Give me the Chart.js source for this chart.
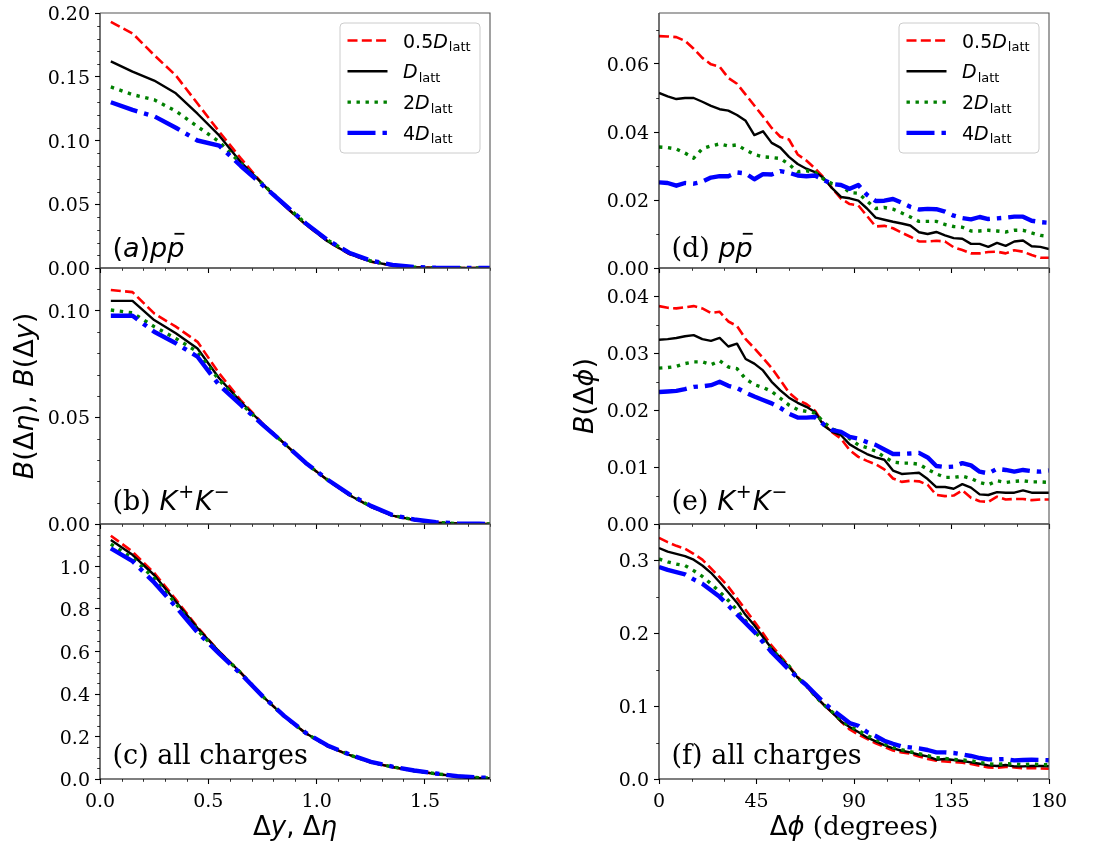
<!DOCTYPE html>
<html>
<head>
<meta charset="utf-8">
<script src="https://cdn.jsdelivr.net/npm/chart.js@4.4.1/dist/chart.umd.min.js"></script>
<style>
  html, body { margin: 0; padding: 0; background: #ffffff; }
  #fig { position: relative; width: 1100px; height: 843px; overflow: hidden; background: #ffffff; }
  #fig canvas { position: absolute; }
</style>
</head>
<body>
<div id="fig"></div>
<script>
// ---- bin centres ----
const rapidityBins = [0.05, 0.15, 0.25, 0.35, 0.45, 0.55, 0.65, 0.75, 0.85, 0.95, 1.05, 1.15, 1.25, 1.35, 1.45, 1.55, 1.65, 1.75, 1.85];
const angleBins = [0, 4, 8, 12, 16, 20, 24, 28, 32, 36, 40, 44, 48, 52, 56, 60, 64, 68, 72, 76, 80, 84, 88,
                   92, 96, 100, 104, 108, 112, 116, 120, 124, 128, 132, 136, 140, 144, 148, 152, 156, 160, 164, 168, 172, 176, 180];

// legend prefixes for the four diffusion constants
const lattPrefixes = ['0.5', '', '2', '4'];

// ---- (a) p pbar, balance function vs rapidity ----
const ppDy05 = [0.193, 0.184, 0.167, 0.151, 0.129, 0.107, 0.086, 0.066, 0.049, 0.034, 0.021, 0.011, 0.005, 0.002, 0.0006, 0.0001, 0, 0, 0];
const ppDy1  = [0.162, 0.154, 0.147, 0.137, 0.121, 0.104, 0.083, 0.066, 0.049, 0.034, 0.021, 0.011, 0.005, 0.002, 0.0006, 0.0001, 0, 0, 0];
const ppDy2  = [0.142, 0.136, 0.132, 0.123, 0.111, 0.099, 0.082, 0.066, 0.050, 0.035, 0.022, 0.012, 0.0055, 0.0022, 0.0007, 0.0002, 0, 0, 0];
const ppDy4  = [0.130, 0.124, 0.119, 0.110, 0.100, 0.096, 0.080, 0.065, 0.050, 0.035, 0.022, 0.012, 0.0058, 0.0024, 0.0008, 0.0002, 0, 0, 0];

// ---- (b) K+K-, vs rapidity ----
const kkDy05 = [0.1097, 0.1087, 0.0987, 0.0925, 0.0854, 0.0706, 0.0580, 0.0472, 0.0378, 0.0284, 0.0206, 0.0136, 0.0081, 0.0039, 0.0019, 0.0006, 0.0002, 0, 0];
const kkDy1  = [0.1046, 0.1046, 0.0956, 0.0894, 0.0823, 0.0683, 0.0573, 0.0470, 0.0378, 0.0284, 0.0206, 0.0136, 0.0081, 0.0039, 0.0019, 0.0006, 0.0002, 0, 0];
const kkDy2  = [0.1003, 0.0990, 0.0925, 0.0870, 0.0807, 0.0675, 0.0566, 0.0468, 0.0378, 0.0285, 0.0207, 0.0138, 0.0083, 0.0040, 0.0020, 0.0007, 0.0002, 0.0001, 0];
const kkDy4  = [0.0976, 0.0976, 0.0901, 0.0847, 0.0784, 0.0651, 0.0558, 0.0466, 0.0378, 0.0286, 0.0208, 0.0140, 0.0085, 0.0042, 0.0021, 0.0008, 0.0003, 0.0001, 0];

// ---- (c) all charges, vs pseudorapidity ----
const allDy05 = [1.145, 1.070, 0.970, 0.845, 0.715, 0.600, 0.500, 0.390, 0.295, 0.215, 0.155, 0.113, 0.078, 0.056, 0.038, 0.024, 0.012, 0.005, 0.002];
const allDy1  = [1.125, 1.055, 0.960, 0.835, 0.710, 0.600, 0.500, 0.390, 0.295, 0.215, 0.155, 0.113, 0.078, 0.056, 0.038, 0.024, 0.012, 0.005, 0.002];
const allDy2  = [1.105, 1.040, 0.945, 0.825, 0.700, 0.595, 0.500, 0.390, 0.295, 0.215, 0.156, 0.114, 0.079, 0.057, 0.039, 0.025, 0.013, 0.006, 0.002];
const allDy4  = [1.085, 1.025, 0.925, 0.810, 0.690, 0.590, 0.495, 0.390, 0.297, 0.217, 0.158, 0.116, 0.081, 0.058, 0.040, 0.026, 0.013, 0.007, 0.003];

// ---- (d) p pbar, vs azimuth ----
const ppPhi05 = [0.0682, 0.0681, 0.0679, 0.0668, 0.0645, 0.0618, 0.0599, 0.0592, 0.0559, 0.0542, 0.0510, 0.0478, 0.0446, 0.0412, 0.0386, 0.0378, 0.0334, 0.0316, 0.0293, 0.0266, 0.0234, 0.0204, 0.0188,
                 0.0184, 0.0153, 0.0122, 0.0124, 0.0117, 0.0104, 0.0092, 0.0078, 0.0078, 0.0080, 0.0078, 0.0061, 0.0053, 0.0043, 0.0043, 0.0047, 0.0048, 0.0043, 0.0052, 0.0048, 0.0038, 0.0030, 0.0030];
const ppPhi1  = [0.0515, 0.0505, 0.0497, 0.0500, 0.0500, 0.0489, 0.0477, 0.0467, 0.0463, 0.0450, 0.0433, 0.0391, 0.0402, 0.0368, 0.0354, 0.0327, 0.0306, 0.0292, 0.0282, 0.0265, 0.0234, 0.0209, 0.0205,
                 0.0198, 0.0175, 0.0148, 0.0142, 0.0136, 0.0131, 0.0125, 0.0105, 0.0100, 0.0106, 0.0096, 0.0088, 0.0086, 0.0071, 0.0071, 0.0062, 0.0074, 0.0065, 0.0078, 0.0081, 0.0064, 0.0062, 0.0056];
const ppPhi2  = [0.0356, 0.0354, 0.0350, 0.0338, 0.0323, 0.0351, 0.0359, 0.0365, 0.0359, 0.0362, 0.0347, 0.0334, 0.0327, 0.0325, 0.0322, 0.0305, 0.0283, 0.0286, 0.0282, 0.0261, 0.0248, 0.0243, 0.0222,
                 0.0220, 0.0197, 0.0175, 0.0178, 0.0173, 0.0162, 0.0150, 0.0137, 0.0137, 0.0137, 0.0128, 0.0122, 0.0120, 0.0109, 0.0109, 0.0111, 0.0109, 0.0106, 0.0111, 0.0111, 0.0103, 0.0096, 0.0093];
const ppPhi4  = [0.0252, 0.0250, 0.0242, 0.0250, 0.0248, 0.0254, 0.0266, 0.0270, 0.0270, 0.0281, 0.0278, 0.0261, 0.0276, 0.0275, 0.0285, 0.0280, 0.0272, 0.0270, 0.0272, 0.0259, 0.0247, 0.0244, 0.0233,
                 0.0244, 0.0215, 0.0197, 0.0198, 0.0203, 0.0192, 0.0180, 0.0172, 0.0174, 0.0173, 0.0166, 0.0154, 0.0147, 0.0143, 0.0150, 0.0144, 0.0146, 0.0148, 0.0151, 0.0151, 0.0139, 0.0135, 0.0133];

// ---- (e) K+K-, vs azimuth ----
const kkPhi05 = [0.0383, 0.0380, 0.0379, 0.0381, 0.0383, 0.0379, 0.0371, 0.0373, 0.0356, 0.0348, 0.0325, 0.0309, 0.0292, 0.0274, 0.0253, 0.0231, 0.0218, 0.0211, 0.0199, 0.0175, 0.0161, 0.0150, 0.0130,
                 0.0118, 0.0111, 0.0105, 0.0096, 0.0080, 0.0074, 0.0076, 0.0075, 0.0069, 0.0051, 0.0049, 0.0050, 0.0059, 0.0046, 0.0040, 0.0039, 0.0048, 0.0043, 0.0044, 0.0044, 0.0042, 0.0043, 0.0043];
const kkPhi1  = [0.0324, 0.0325, 0.0327, 0.0330, 0.0332, 0.0325, 0.0322, 0.0327, 0.0312, 0.0317, 0.0290, 0.0282, 0.0270, 0.0250, 0.0235, 0.0222, 0.0213, 0.0206, 0.0197, 0.0173, 0.0162, 0.0156, 0.0140,
                 0.0131, 0.0123, 0.0117, 0.0113, 0.0094, 0.0088, 0.0089, 0.0090, 0.0079, 0.0065, 0.0065, 0.0062, 0.0070, 0.0064, 0.0052, 0.0051, 0.0056, 0.0055, 0.0055, 0.0059, 0.0055, 0.0055, 0.0055];
const kkPhi2  = [0.0274, 0.0275, 0.0277, 0.0282, 0.0285, 0.0285, 0.0280, 0.0287, 0.0276, 0.0273, 0.0255, 0.0245, 0.0240, 0.0233, 0.0221, 0.0209, 0.0201, 0.0198, 0.0195, 0.0179, 0.0167, 0.0161, 0.0150,
                 0.0139, 0.0134, 0.0128, 0.0118, 0.0109, 0.0107, 0.0107, 0.0105, 0.0096, 0.0088, 0.0082, 0.0082, 0.0084, 0.0080, 0.0073, 0.0069, 0.0076, 0.0073, 0.0075, 0.0076, 0.0074, 0.0074, 0.0073];
const kkPhi4  = [0.0232, 0.0233, 0.0234, 0.0237, 0.0241, 0.0242, 0.0244, 0.0250, 0.0243, 0.0239, 0.0231, 0.0224, 0.0218, 0.0212, 0.0204, 0.0194, 0.0187, 0.0187, 0.0188, 0.0175, 0.0165, 0.0162, 0.0153,
                 0.0150, 0.0144, 0.0139, 0.0131, 0.0123, 0.0123, 0.0124, 0.0125, 0.0117, 0.0102, 0.0100, 0.0101, 0.0107, 0.0103, 0.0092, 0.0089, 0.0097, 0.0095, 0.0092, 0.0095, 0.0093, 0.0092, 0.0094];

// ---- (f) all charges, vs azimuth ----
const allPhi05 = [0.331, 0.325, 0.320, 0.316, 0.309, 0.301, 0.289, 0.277, 0.264, 0.248, 0.232, 0.216, 0.200, 0.183, 0.169, 0.155, 0.140, 0.128, 0.114, 0.102, 0.091, 0.079,
                  0.068, 0.061, 0.055, 0.049, 0.044, 0.039, 0.0365, 0.0347, 0.031, 0.0274, 0.0251, 0.0241, 0.0233, 0.0224, 0.0206, 0.0183, 0.0159, 0.0155, 0.0165, 0.016, 0.0146, 0.0151, 0.0145, 0.014];
const allPhi1  = [0.317, 0.312, 0.309, 0.306, 0.301, 0.293, 0.283, 0.270, 0.256, 0.242, 0.225, 0.211, 0.195, 0.179, 0.166, 0.154, 0.139, 0.128, 0.114, 0.102, 0.091, 0.079,
                  0.0713, 0.0645, 0.0571, 0.0516, 0.0466, 0.042, 0.0388, 0.0365, 0.0333, 0.031, 0.0265, 0.0274, 0.0261, 0.0247, 0.0228, 0.021, 0.0187, 0.0178, 0.0192, 0.0173, 0.0173, 0.0178, 0.0178, 0.0175];
const allPhi2  = [0.302, 0.298, 0.295, 0.293, 0.286, 0.278, 0.268, 0.257, 0.245, 0.232, 0.217, 0.203, 0.190, 0.178, 0.166, 0.155, 0.139, 0.128, 0.114, 0.102, 0.092, 0.081,
                  0.0722, 0.0667, 0.0598, 0.0543, 0.0484, 0.0434, 0.0402, 0.0375, 0.0347, 0.032, 0.0292, 0.0283, 0.0269, 0.0261, 0.0251, 0.0228, 0.021, 0.020, 0.021, 0.0206, 0.0196, 0.0206, 0.020, 0.0195];
const allPhi4  = [0.291, 0.287, 0.284, 0.281, 0.274, 0.268, 0.259, 0.250, 0.238, 0.226, 0.214, 0.202, 0.188, 0.174, 0.162, 0.150, 0.139, 0.129, 0.117, 0.105, 0.095, 0.086,
                  0.0768, 0.0731, 0.0645, 0.059, 0.0525, 0.0484, 0.0447, 0.0434, 0.042, 0.0398, 0.0365, 0.0365, 0.0357, 0.0338, 0.0316, 0.0288, 0.0269, 0.0269, 0.0274, 0.0255, 0.0261, 0.0265, 0.0262, 0.0258];

// ---- tick values ----
const xTicksRap = [0, 0.5, 1.0, 1.5];
const xTicksPhi = [0, 45, 90, 135, 180];
const yTicksA = [0, 0.05, 0.10, 0.15, 0.20];
const yTicksB = [0, 0.05, 0.10];
const yTicksC = [0, 0.2, 0.4, 0.6, 0.8, 1.0];
const yTicksD = [0, 0.02, 0.04, 0.06];
const yTicksE = [0, 0.01, 0.02, 0.03, 0.04];
const yTicksF = [0, 0.1, 0.2, 0.3];

// ---- styling ----
const SANS = '"DejaVu Sans", sans-serif';
const SERIF = '"DejaVu Serif", serif';
const f = (size, fam, italic) => (italic ? 'italic ' : '') + size + 'px ' + fam;
const TICK_FONT = f(19, SERIF);

const seriesStyles = [
  { color: '#ff0000', width: 2.6, dash: [10, 4.3] },
  { color: '#000000', width: 2.4, dash: [] },
  { color: '#008000', width: 3.4, dash: [3.4, 5.6] },
  { color: '#0000ff', width: 4.4, dash: [28, 7, 4.4, 7] }
];

const rows = [ { top: 13, bottom: 268 }, { top: 268, bottom: 524 }, { top: 524, bottom: 779 } ];
const cols = [ { left: 0, width: 530, axisW: 100, padR: 40 }, { left: 560, width: 540, axisW: 99, padR: 51 } ];

// draws a sequence of differently styled text pieces, returns end x
function drawRuns(ctx, x, y, runs) {
  let cx = x;
  for (const r of runs) {
    ctx.font = r.font;
    ctx.fillText(r.t, cx, y + (r.dy || 0));
    const w = ctx.measureText(r.t).width;
    if (r.bar) {
      ctx.save();
      ctx.lineWidth = 1.8;
      ctx.strokeStyle = '#000';
      ctx.setLineDash([]);
      const by = y - r.size * 0.86;
      ctx.beginPath();
      ctx.moveTo(cx + w * 0.42, by);
      ctx.lineTo(cx + w * 1.0, by);
      ctx.stroke();
      ctx.restore();
    }
    cx += w + (r.gap || 0);
  }
  return cx;
}
function runsWidth(ctx, runs) {
  let w = 0;
  for (const r of runs) { ctx.font = r.font; w += ctx.measureText(r.t).width + (r.gap || 0); }
  return w;
}

const PL = 27; // panel label size
const ppbarRuns = (prefixRuns) => prefixRuns.concat([
  { t: 'p', font: f(PL, SANS, true) },
  { t: 'p', font: f(PL, SANS, true), bar: true, size: PL }
]);
const kkRuns = [
  { t: '(b) ', font: f(PL, SERIF) },
  { t: 'K', font: f(PL, SANS, true), gap: 1 },
  { t: '+', font: f(19, SANS), dy: -12, gap: 1 },
  { t: 'K', font: f(PL, SANS, true), gap: 1 },
  { t: '\u2212', font: f(19, SANS), dy: -12 }
];

const panels = [
  { col: 0, row: 0, xs: rapidityBins, series: [ppDy05, ppDy1, ppDy2, ppDy4], xmax: 1.8, xTicks: xTicksRap, xMinor: 0.1, xDec: 1,
    ymax: 0.20, yTicks: yTicksA, yMinor: 0.01, yDec: 2, legend: true,
    label: ppbarRuns([{ t: '(', font: f(PL, SANS) }, { t: 'a', font: f(PL, SANS, true) }, { t: ')', font: f(PL, SANS) }]) },
  { col: 0, row: 1, xs: rapidityBins, series: [kkDy05, kkDy1, kkDy2, kkDy4], xmax: 1.8, xTicks: xTicksRap, xMinor: 0.1, xDec: 1,
    ymax: 0.12, yTicks: yTicksB, yMinor: 0.01, yDec: 2, label: kkRuns,
    ylabel: [
      { t: 'B', font: f(27, SANS, true) }, { t: '(\u0394', font: f(27, SANS) }, { t: '\u03b7', font: f(27, SANS, true) },
      { t: '), ', font: f(27, SANS) }, { t: 'B', font: f(27, SANS, true) }, { t: '(\u0394', font: f(27, SANS) },
      { t: 'y', font: f(27, SANS, true) }, { t: ')', font: f(27, SANS) }
    ] },
  { col: 0, row: 2, xs: rapidityBins, series: [allDy05, allDy1, allDy2, allDy4], xmax: 1.8, xTicks: xTicksRap, xMinor: 0.1, xDec: 1,
    ymax: 1.2, yTicks: yTicksC, yMinor: 0.05, yDec: 1, showX: true,
    label: [{ t: '(c) all charges', font: f(PL, SERIF) }],
    xlabel: [
      { t: '\u0394', font: f(26, SANS) }, { t: 'y', font: f(26, SANS, true) }, { t: ', \u0394', font: f(26, SANS) },
      { t: '\u03b7', font: f(26, SANS, true) }
    ] },
  { col: 1, row: 0, xs: angleBins, series: [ppPhi05, ppPhi1, ppPhi2, ppPhi4], xmax: 180, xTicks: xTicksPhi, xMinor: 15, xDec: 0,
    ymax: 0.075, yTicks: yTicksD, yMinor: 0.01, yDec: 2, legend: true,
    label: ppbarRuns([{ t: '(d) ', font: f(PL, SERIF) }]) },
  { col: 1, row: 1, xs: angleBins, series: [kkPhi05, kkPhi1, kkPhi2, kkPhi4], xmax: 180, xTicks: xTicksPhi, xMinor: 15, xDec: 0,
    ymax: 0.045, yTicks: yTicksE, yMinor: 0.005, yDec: 2,
    label: [{ t: '(e) ', font: f(PL, SERIF) }].concat(kkRuns.slice(1)),
    ylabel: [
      { t: 'B', font: f(27, SANS, true) }, { t: '(\u0394', font: f(27, SANS) }, { t: '\u03d5', font: f(27, SANS, true) },
      { t: ')', font: f(27, SANS) }
    ] },
  { col: 1, row: 2, xs: angleBins, series: [allPhi05, allPhi1, allPhi2, allPhi4], xmax: 180, xTicks: xTicksPhi, xMinor: 15, xDec: 0,
    ymax: 0.35, yTicks: yTicksF, yMinor: 0.05, yDec: 1, showX: true,
    label: [{ t: '(f) all charges', font: f(PL, SERIF) }],
    xlabel: [
      { t: '\u0394', font: f(26, SANS) }, { t: '\u03d5', font: f(26, SANS, true) }, { t: ' (degrees)', font: f(26, SERIF) }
    ] }
];

// minor ticks, frame, tick labels, legend and annotations for one panel
function panelPlugin(p) {
  return {
    id: 'panelDecor',
    afterDatasetsDraw(chart) {
      const ctx = chart.ctx, ca = chart.chartArea;
      const xs = chart.scales.x, ys = chart.scales.y;
      ctx.save();
      ctx.setLineDash([]);
      ctx.strokeStyle = '#000';
      // minor ticks
      ctx.lineWidth = 0.8;
      ctx.beginPath();
      const ny = Math.floor(p.ymax / p.yMinor + 1e-6);
      for (let i = 0; i <= ny; i++) {
        const v = i * p.yMinor;
        if (p.yTicks.some(t => Math.abs(t - v) < 1e-9)) continue;
        const py = Math.round(ys.getPixelForValue(v)) + 0.5;
        ctx.moveTo(ca.left, py); ctx.lineTo(ca.left - 2.8, py);
      }
      const nx = Math.floor(p.xmax / p.xMinor + 1e-6);
      for (let i = 0; i <= nx; i++) {
        const v = i * p.xMinor;
        if (p.xTicks.some(t => Math.abs(t - v) < 1e-9)) continue;
        const px = Math.round(xs.getPixelForValue(v)) + 0.5;
        ctx.moveTo(px, ca.bottom); ctx.lineTo(px, ca.bottom + 2.8);
      }
      ctx.stroke();
      // frame
      ctx.lineWidth = 1.1;
      ctx.strokeStyle = '#000';
      ctx.beginPath();
      ctx.moveTo(ca.left, ca.top); ctx.lineTo(ca.left, ca.bottom); ctx.lineTo(ca.right, ca.bottom);
      ctx.stroke();
      ctx.strokeStyle = '#555';
      ctx.beginPath();
      ctx.moveTo(ca.left, ca.top); ctx.lineTo(ca.right, ca.top); ctx.lineTo(ca.right, ca.bottom);
      ctx.stroke();
      ctx.restore();
    },
    afterDraw(chart) {
      const ctx = chart.ctx, ca = chart.chartArea;
      const xs = chart.scales.x, ys = chart.scales.y;
      ctx.save();
      ctx.fillStyle = '#000';
      // tick labels, placed at the scales' own tick positions
      ctx.font = TICK_FONT;
      ctx.textBaseline = 'alphabetic';
      ctx.textAlign = 'right';
      ys.ticks.forEach(t => {
        ctx.fillText(Number(t.value).toFixed(p.yDec), ca.left - 10, ys.getPixelForValue(t.value) + 7);
      });
      if (p.showX) {
        ctx.textAlign = 'center';
        xs.ticks.forEach(t => {
          ctx.fillText(Number(t.value).toFixed(p.xDec), xs.getPixelForValue(t.value), ca.bottom + 28);
        });
      }
      ctx.textAlign = 'left';
      // panel tag
      const lblOff = [11, 14, 15][p.row];
      drawRuns(ctx, ca.left + 12.5, ca.bottom - lblOff, p.label);
      // legend
      if (p.legend) {
        const bR = ca.right - 10, bL = bR - 140, bT = ca.top + 10, bB = ca.top + 140, r = 4;
        ctx.beginPath();
        ctx.moveTo(bL + r, bT); ctx.lineTo(bR - r, bT); ctx.arcTo(bR, bT, bR, bT + r, r);
        ctx.lineTo(bR, bB - r); ctx.arcTo(bR, bB, bR - r, bB, r);
        ctx.lineTo(bL + r, bB); ctx.arcTo(bL, bB, bL, bB - r, r);
        ctx.lineTo(bL, bT + r); ctx.arcTo(bL, bT, bL + r, bT, r);
        ctx.closePath();
        ctx.fillStyle = 'rgba(255,255,255,0.85)';
        ctx.fill();
        ctx.lineWidth = 1;
        ctx.strokeStyle = '#cccccc';
        ctx.stroke();
        chart.data.datasets.forEach((ds, i) => {
          const cy = bT + 17.5 + i * 30.8;
          ctx.save();
          ctx.strokeStyle = ds.borderColor;
          ctx.lineWidth = ds.borderWidth;
          ctx.setLineDash(ds.borderDash);
          ctx.lineCap = 'butt';
          ctx.beginPath();
          ctx.moveTo(bL + 7.5, cy); ctx.lineTo(bL + 47.5, cy);
          ctx.stroke();
          ctx.restore();
          ctx.fillStyle = '#000';
          const runs = [];
          if (lattPrefixes[i]) runs.push({ t: lattPrefixes[i], font: f(19, SANS) });
          runs.push({ t: 'D', font: f(19, SANS, true), gap: 1 });
          runs.push({ t: 'latt', font: f(13, SANS), dy: 3.5 });
          drawRuns(ctx, bL + 63, cy + 7, runs);
        });
      }
      // y axis title (rotated)
      if (p.ylabel) {
        const w = runsWidth(ctx, p.ylabel);
        ctx.save();
        ctx.translate(33, (ca.top + ca.bottom) / 2);
        ctx.rotate(-Math.PI / 2);
        ctx.fillStyle = '#000';
        drawRuns(ctx, -w / 2, 0, p.ylabel);
        ctx.restore();
      }
      // x axis title
      if (p.xlabel) {
        const w = runsWidth(ctx, p.xlabel);
        drawRuns(ctx, (ca.left + ca.right) / 2 - w / 2, ca.bottom + 56, p.xlabel);
      }
      ctx.restore();
    }
  };
}

const fig = document.getElementById('fig');
panels.forEach(p => {
  const c = cols[p.col], r = rows[p.row];
  const xAxisH = p.showX ? 64 : 12;
  const canvas = document.createElement('canvas');
  const h = 10 + (r.bottom - r.top) + xAxisH;
  canvas.width = c.width; canvas.height = h;
  canvas.style.left = c.left + 'px';
  canvas.style.top = (r.top - 10) + 'px';
  canvas.style.width = c.width + 'px';
  canvas.style.height = h + 'px';
  fig.appendChild(canvas);

  const datasets = p.series.map((ys, i) => ({
    label: lattPrefixes[i] + 'D_latt',
    data: p.xs.map((x, k) => ({ x: x, y: ys[k] })),
    borderColor: seriesStyles[i].color,
    borderWidth: seriesStyles[i].width,
    borderDash: seriesStyles[i].dash,
    borderCapStyle: 'butt',
    borderJoinStyle: 'round',
    pointRadius: 0,
    tension: 0,
    fill: false,
    clip: 0,
    order: 4 - i
  }));

  const tickGrid = { display: true, drawOnChartArea: false, drawTicks: true, tickLength: 5, tickWidth: 1.1, tickColor: '#000' };

  new Chart(canvas, {
    type: 'line',
    data: { datasets: datasets },
    options: {
      responsive: false,
      animation: false,
      devicePixelRatio: 1,
      events: [],
      layout: { padding: { top: 10, right: c.padR, left: 0, bottom: 0 } },
      plugins: { legend: { display: false }, tooltip: { enabled: false }, title: { display: false } },
      scales: {
        x: {
          type: 'linear', min: 0, max: p.xmax,
          afterBuildTicks: s => { s.ticks = p.xTicks.map(v => ({ value: v })); },
          afterFit: s => { s.height = xAxisH; },
          grid: tickGrid,
          border: { display: false },
          ticks: { display: false, autoSkip: false }
        },
        y: {
          type: 'linear', min: 0, max: p.ymax,
          afterBuildTicks: s => { s.ticks = p.yTicks.map(v => ({ value: v })); },
          afterFit: s => { s.width = c.axisW; },
          grid: tickGrid,
          border: { display: false },
          ticks: { display: false, autoSkip: false }
        }
      }
    },
    plugins: [panelPlugin(p)]
  });
});
</script>
</body>
</html>
